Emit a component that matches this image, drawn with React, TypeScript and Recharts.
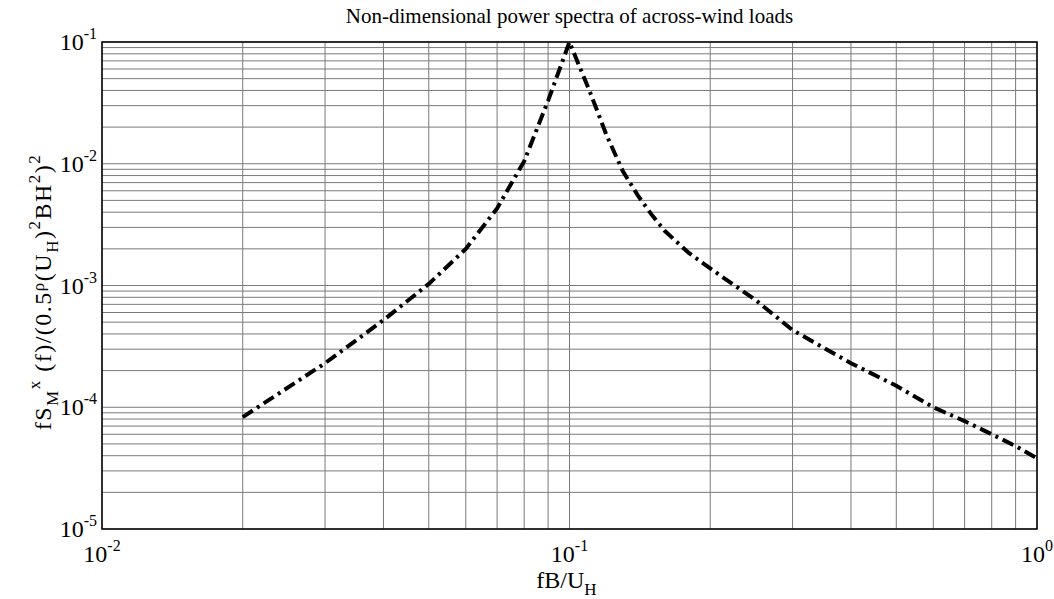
import React from "react";
import { LineChart, Line, XAxis, YAxis, CartesianGrid, ReferenceArea } from "recharts";

// frequency fB/U_H
const freq = [0.02, 0.03, 0.04, 0.05, 0.06, 0.07, 0.08, 0.09, 0.1, 0.105, 0.11, 0.12, 0.13, 0.14, 0.15, 0.16, 0.18, 0.2, 0.25, 0.3, 0.4, 0.5, 0.6, 0.7, 0.8, 0.9, 1.0];
// non-dimensional spectrum
const spectrum = [8.3e-5, 2.3e-4, 5.2e-4, 1.03e-3, 2.0e-3, 4.3e-3, 1.05e-2, 3.3e-2, 0.1, 0.063, 0.041, 0.0172, 8.7e-3, 5.5e-3, 3.8e-3, 2.8e-3, 1.85e-3, 1.38e-3, 7.6e-4, 4.3e-4, 2.3e-4, 1.5e-4, 1.0e-4, 7.7e-5, 6.0e-5, 4.8e-5, 3.8e-5];

const xDecades = [0.01, 0.1, 1];
const yDecades = [1e-5, 1e-4, 1e-3, 1e-2, 1e-1];
const minorMultipliers = [1, 2, 3, 4, 5, 6, 7, 8, 9];

const buildTicks = (decades: number[]) => {
  const out: number[] = [];
  decades.forEach((d, i) => {
    if (i === decades.length - 1) {
      out.push(d);
    } else {
      minorMultipliers.forEach((m) => out.push(parseFloat((d * m).toPrecision(6))));
    }
  });
  return out;
};

const xTicks = buildTicks(xDecades);
const yTicks = buildTicks(yDecades);

const data = freq.map((f, i) => ({ x: f, y: spectrum[i] }));

const FONT = "'Liberation Serif', 'Times New Roman', serif";

const isDecade = (v: number) => {
  const l = Math.log10(v);
  return Math.abs(l - Math.round(l)) < 1e-6;
};

const XTick = (props: any) => {
  const { x, y, payload } = props;
  const v = payload.value;
  if (!isDecade(v)) return <g />;
  const e = Math.round(Math.log10(v));
  return (
    <text x={x} y={y + 25} textAnchor="middle" fontFamily={FONT} fontSize={24} fill="#000">
      <tspan>10</tspan>
      <tspan dy={-11} fontSize={16}>{String(e)}</tspan>
    </text>
  );
};

const YTick = (props: any) => {
  const { x, y, payload } = props;
  const v = payload.value;
  if (!isDecade(v)) return <g />;
  const e = Math.round(Math.log10(v));
  return (
    <text x={x + 3} y={y + 8} textAnchor="end" fontFamily={FONT} fontSize={24} fill="#000">
      <tspan>10</tspan>
      <tspan dy={-11} fontSize={16}>{String(e)}</tspan>
    </text>
  );
};

type Seg = { t: string; s: number; fs?: number };

const renderSegs = (segs: Seg[]) => {
  let level = 0;
  return segs.map((sg, i) => {
    const target = sg.s === 0 ? 0 : sg.s === 1 ? -11 : sg.s === -1 ? 7 : sg.s;
    const dy = target - level;
    level = target;
    const fs = sg.fs ?? (sg.s === 0 ? 24 : 17);
    return (
      <tspan key={i} dy={dy} fontSize={fs}>
        {sg.t}
      </tspan>
    );
  });
};

const yLabelSegs: Seg[] = [
  { t: "fS", s: 0 },
  { t: "M", s: -1 },
  { t: "x", s: 1 },
  { t: " (f)/(0.5", s: 0 },
  { t: "ρ", s: -7, fs: 17 },
  { t: "(U", s: 0 },
  { t: "H", s: -1 },
  { t: ")", s: 0 },
  { t: "2", s: 1 },
  { t: "BH", s: 0 },
  { t: "2", s: 1 },
  { t: ")", s: 0 },
  { t: "2", s: 1 },
];

const xLabelSegs: Seg[] = [
  { t: "fB/U", s: 0 },
  { t: "H", s: -1 },
];

const YLabel = () => {
  const cx = 51;
  const cy = 292;
  return (
    <text
      x={cx}
      y={cy}
      transform={`rotate(-90, ${cx}, ${cy})`}
      textAnchor="middle"
      fontFamily={FONT}
      fontSize={24}
      letterSpacing={1.5}
      fill="#000"
    >
      {renderSegs(yLabelSegs)}
    </text>
  );
};

const XLabel = (props: any) => {
  const vb = props.viewBox || { x: 0, y: 0, width: 0 };
  const cx = vb.x + vb.width / 2 - 3;
  return (
    <text x={cx} y={588} textAnchor="middle" fontFamily={FONT} fontSize={24} fill="#000">
      {renderSegs(xLabelSegs)}
    </text>
  );
};

export default function App() {
  return (
    <div style={{ position: "absolute", left: 0, top: 0, width: 1054, height: 599, background: "#fff" }}>
      <div
        style={{
          position: "absolute",
          left: 102,
          width: 935,
          top: 4,
          textAlign: "center",
          fontFamily: FONT,
          fontSize: 21,
          color: "#000",
          lineHeight: "24px",
        }}
      >
        Non-dimensional power spectra of across-wind loads
      </div>
      <LineChart
        width={1054}
        height={599}
        data={data}
        margin={{ top: 42, right: 17, left: 0, bottom: 0 }}
        style={{ overflow: "visible" }}
      >
        <CartesianGrid stroke="#7a7a7a" strokeWidth={1} />
        <XAxis
          dataKey="x"
          type="number"
          scale="log"
          domain={[0.01, 1]}
          ticks={xTicks}
          interval={0}
          tickLine={false}
          axisLine={false}
          height={70}
          tick={<XTick />}
          allowDataOverflow
          label={{ content: <XLabel /> }}
        />
        <YAxis
          dataKey="y"
          type="number"
          scale="log"
          domain={[1e-5, 0.1]}
          ticks={yTicks}
          interval={0}
          tickLine={false}
          axisLine={false}
          width={102}
          tick={<YTick />}
          allowDataOverflow
          label={{ content: <YLabel /> }}
        />
        <Line
          type="linear"
          dataKey="y"
          stroke="#000"
          strokeWidth={4}
          strokeDasharray="12 5 3 5"
          dot={false}
          isAnimationActive={false}
        />
        <ReferenceArea x1={0.01} x2={1} y1={1e-5} y2={0.1} fill="none" stroke="#000" strokeWidth={1.5} />
      </LineChart>
    </div>
  );
}
